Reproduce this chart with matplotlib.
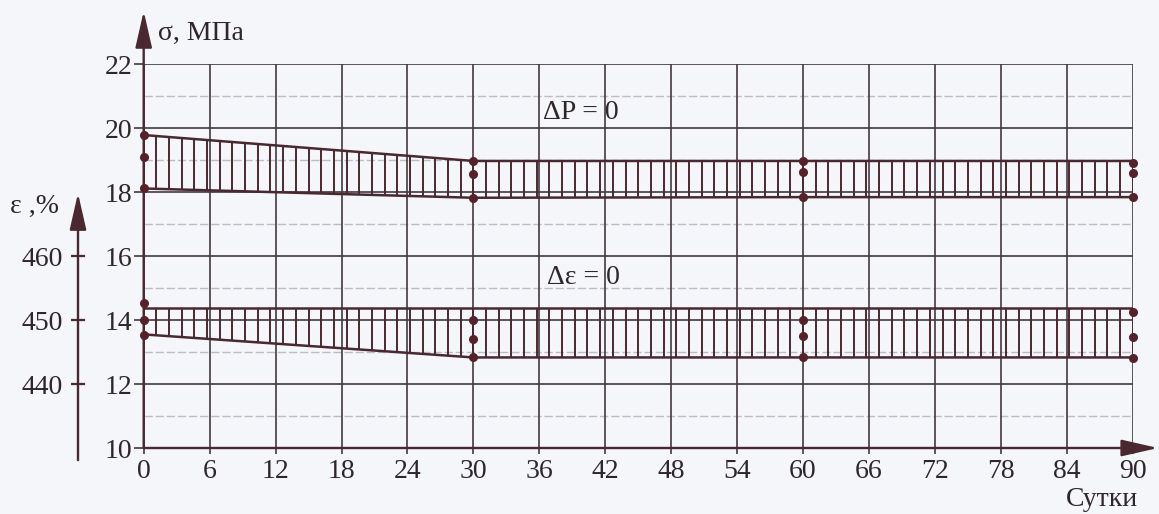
import numpy as np
import matplotlib
matplotlib.use("Agg")
import matplotlib.pyplot as plt
import matplotlib.transforms as mtransforms

# ---------------- data ----------------
days_key = [0, 30, 60, 90]
x_ticks = list(range(0, 91, 6))
sigma_ticks = list(range(10, 23, 2))
sigma_minor = [11, 13, 15, 17, 19, 21]
eps_ticks = [440, 450, 460]

# ΔP = 0 band (σ, MPa)
sig_upper = [19.78, 18.97, 18.97, 18.97]
sig_lower = [18.11, 17.82, 17.84, 17.84]
sig_dots_top = [19.78, 18.98, 18.98, 18.90]
sig_dots_mid = [19.08, 18.56, 18.62, 18.60]
sig_dots_bot = [18.11, 17.80, 17.85, 17.85]

# Δε = 0 band (ε, %)
eps_upper = [451.85, 451.85, 451.85, 451.85]
eps_lower = [447.75, 444.15, 444.15, 444.15]
eps_dots_top = [452.6, 450.0, 450.0, 451.3]
eps_dots_mid = [450.0, 447.0, 447.5, 447.4]
eps_dots_bot = [447.65, 444.15, 444.15, 444.0]

# ---------------- style ----------------
BG = "#f4f6fa"
INK = "#4a2830"
GRID = "#44393f"
TXT = "#2e2629"
FONT = "Liberation Serif"
FS = 20

W, H = 1159, 514
fig = plt.figure(figsize=(W / 100, H / 100), dpi=100, facecolor=BG)
x0px, x1px = 143.7, 1132.7
ytop, ybot = 64.0, 448.0
ax = fig.add_axes([x0px / W, (H - ybot) / H, (x1px - x0px) / W, (ybot - ytop) / H])
ax.set_facecolor(BG)
ax.set_xlim(0, 90)
ax.set_ylim(10, 22)
for s in ax.spines.values():
    s.set_visible(False)

ax.set_xticks(x_ticks)
ax.set_yticks(sigma_ticks)
ax.tick_params(axis="y", direction="out", length=7, width=1.2, color=GRID, pad=1,
               labelsize=FS, labelcolor=TXT)
ax.tick_params(axis="x", direction="out", length=4, width=1.2, color=GRID, pad=4,
               labelsize=FS, labelcolor=TXT)
for lab in ax.get_xticklabels() + ax.get_yticklabels():
    lab.set_fontfamily(FONT)
ax.grid(True, color=GRID, lw=1.2, zorder=0)
ax.set_axisbelow(True)
for yv in sigma_minor:
    ax.axhline(yv, color="#bdbcc6", lw=1.0, ls=(0, (6, 2)), zorder=0.5)

# main axis arrows
arrow_kw = dict(arrowstyle="-|>,head_length=1.4,head_width=0.32", color=INK, lw=1.7,
                mutation_scale=16, shrinkA=0, shrinkB=0)
ax.annotate("", xy=(0, 23.65), xytext=(0, 10), arrowprops=arrow_kw, annotation_clip=False)
ax.annotate("", xy=(92.3, 10), xytext=(0, 10), arrowprops=arrow_kw, annotation_clip=False)

# secondary ε axis
ax2 = ax.twinx()
ax2.set_ylim(430, 490)
for s in ax2.spines.values():
    s.set_visible(False)
ax2.spines["left"].set_position(("outward", (x0px - 78) * 0.72))
ax2.yaxis.set_ticks_position("left")
ax2.set_yticks(eps_ticks)
ax2.tick_params(axis="y", length=0, pad=11, labelsize=FS, labelcolor=TXT)
for lab in ax2.get_yticklabels():
    lab.set_fontfamily(FONT)
eps_ax_x = -(x0px - 78) / (x1px - x0px)
ax2.annotate("", xy=(eps_ax_x, 469.8), xytext=(eps_ax_x, 428.1),
             xycoords=("axes fraction", "data"), textcoords=("axes fraction", "data"),
             arrowprops=arrow_kw, annotation_clip=False)
blend = mtransforms.blended_transform_factory(ax2.transAxes, ax2.transData)
ax2.plot([eps_ax_x] * len(eps_ticks), eps_ticks, ls="none", marker="_", ms=10, mew=1.6,
         color=INK, transform=blend, clip_on=False)

# hatch positions (style)
hx = np.linspace(0, 90, 79)

def band(a, upper, lower, dots):
    up = np.interp(hx, days_key, upper)
    lo = np.interp(hx, days_key, lower)
    a.vlines(hx, lo, up, color=INK, lw=1.4, zorder=3)
    a.plot(days_key, upper, color=INK, lw=1.8, zorder=4)
    a.plot(days_key, lower, color=INK, lw=1.8, zorder=4)
    for d in dots:
        a.plot(days_key, d, ls="none", marker="o", ms=5.5, color="#55222c", zorder=5,
               clip_on=False)

band(ax, sig_upper, sig_lower, [sig_dots_top, sig_dots_mid, sig_dots_bot])
band(ax2, eps_upper, eps_lower, [eps_dots_top, eps_dots_mid, eps_dots_bot])

# texts
tk = dict(fontfamily=FONT, fontsize=FS, color=TXT)
ax.text(1.3, 22.97, "σ, МПа", ha="left", va="center", **tk)
ax.text(39.8, 20.47, "ΔP = 0", ha="center", va="center", **tk)
ax.text(40.0, 15.34, "Δε = 0", ha="center", va="center", **tk)
ax.text(90.5, 8.4, "Сутки", ha="right", va="center", clip_on=False, **tk)
ax.text(-12.17, 17.55, "ε ,%", ha="left", va="center", clip_on=False, **tk)

fig.savefig("out.png", dpi=100, facecolor=BG)
